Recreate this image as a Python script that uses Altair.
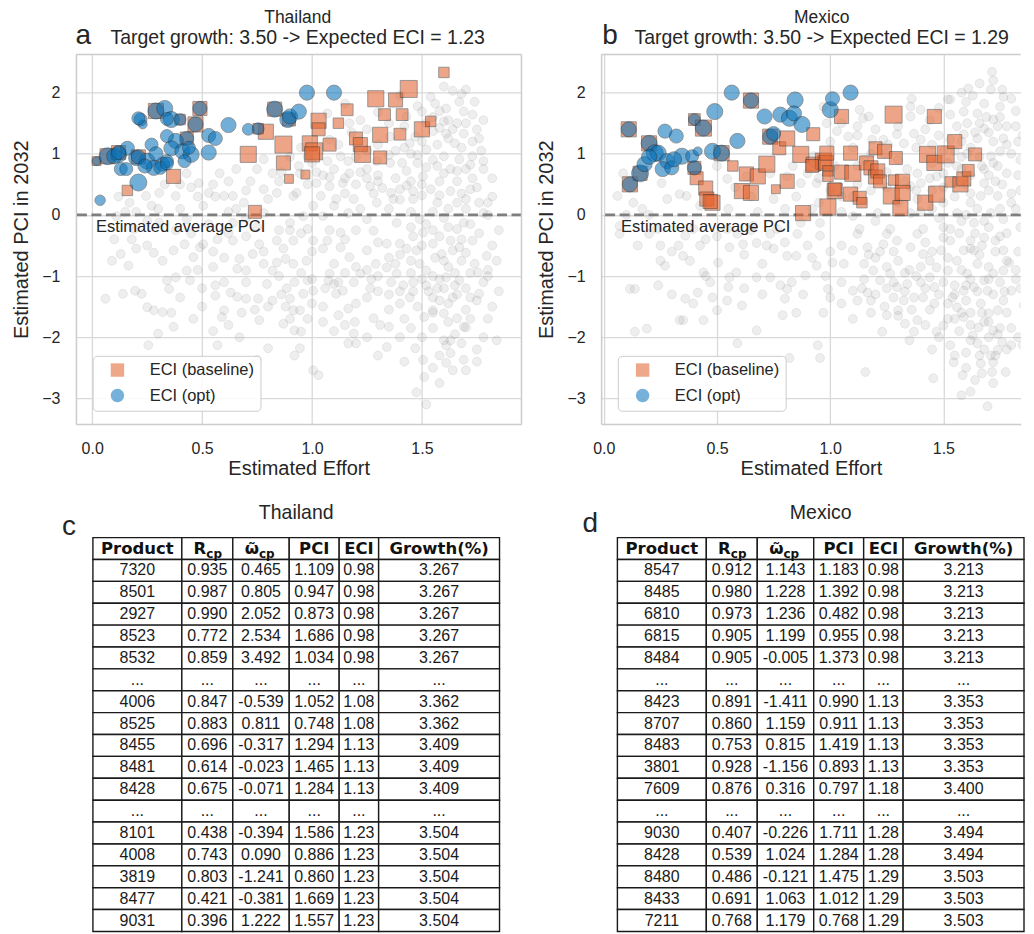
import altair as alt
import pandas as pd

FONT = "Liberation Sans"
TXT = "#262626"
BORDER = "#cccccc"
GRID = "#d9d9d9"

# ---------------- text ----------------
countries = ["Thailand", "Mexico"]
subtitles = ["Target growth: 3.50 -> Expected ECI = 1.23",
             "Target growth: 3.50 -> Expected ECI = 1.29"]
panel_letters = ["a", "b", "c", "d"]
series_names = ["ECI (baseline)", "ECI (opt)"]
avg_label = "Estimated average PCI"
x_title = "Estimated Effort"
y_title = "Estimated PCI in 2032"
x_ticks = [0.0, 0.5, 1.0, 1.5]
y_ticks = [-3, -2, -1, 0, 1, 2]
avg_pci = [0.0]

# ---------------- scatter data: (effort, pci, weight) ----------------
tha_base = [
    (0.16, 0.40, 2), (0.37, 0.63, 3.5), (0.74, 0.05, 3), (0.71, 0.99, 4.5), (0.79, 1.36, 4),
    (0.87, 1.15, 5), (0.87, 0.85, 3.5), (0.895, 0.59, 1.5), (0.97, 0.66, 1.5), (0.99, 1.17, 4),
    (1.01, 1.04, 5), (1.00, 0.99, 4), (1.03, 1.54, 4), (1.03, 1.40, 3), (1.08, 1.15, 3),
    (1.12, 1.50, 2), (1.16, 1.72, 2.5), (1.20, 1.25, 3), (1.22, 1.15, 3.5), (1.23, 0.99, 4.5),
    (1.31, 0.94, 3), (1.31, 1.31, 4), (1.29, 1.90, 4.5), (1.33, 1.64, 2.5), (1.38, 1.88, 3.5),
    (1.41, 1.64, 2.5), (1.40, 1.32, 2.5), (1.44, 2.06, 5), (1.50, 1.40, 4), (1.54, 1.53, 2),
    (1.60, 2.33, 2),
    (0.02, 0.88, 1.5), (0.07, 0.96, 4), (0.29, 1.70, 4), (0.49, 1.74, 3.5), (0.47, 1.48, 4),
    (0.43, 1.25, 3), (0.83, 1.73, 3.5), (0.895, 1.56, 3), (0.755, 1.41, 2), (0.40, 1.56, 2),
    (0.21, 0.95, 3.5), (0.12, 1.02, 3.5),
]
tha_opt = [
    (0.036, 0.24, 2), (0.02, 0.88, 1.5), (0.07, 0.96, 5), (0.12, 0.99, 4.5), (0.16, 1.09, 3.5),
    (0.13, 0.75, 3), (0.21, 0.53, 5), (0.20, 0.93, 4), (0.25, 0.88, 4.5), (0.28, 0.77, 4),
    (0.32, 0.83, 3.5), (0.27, 1.15, 3), (0.29, 1.00, 3.5), (0.22, 1.56, 3), (0.23, 1.48, 1.5),
    (0.29, 1.70, 4.5), (0.33, 1.74, 4.5), (0.36, 1.56, 4.5), (0.40, 1.56, 2.5), (0.49, 1.74, 3.5),
    (0.47, 1.48, 4), (0.43, 1.25, 3.5), (0.38, 1.21, 4), (0.36, 1.09, 4), (0.41, 1.04, 4),
    (0.45, 0.99, 4.5), (0.42, 0.88, 3), (0.53, 1.02, 4), (0.53, 1.30, 3.5), (0.56, 1.25, 3.5),
    (0.62, 1.47, 4), (0.71, 1.40, 2.5), (0.755, 1.41, 2.5), (0.83, 1.73, 4.5), (0.89, 1.56, 4.5),
    (0.90, 1.61, 4), (0.94, 1.69, 4), (0.977, 2.0, 4), (1.10, 2.0, 4), (0.34, 0.88, 3),
    (0.31, 0.77, 3), (0.10, 0.96, 4), (0.21, 0.95, 3.5), (0.12, 1.02, 3.5), (0.155, 0.75, 3),
    (0.34, 1.29, 3), (0.44, 1.10, 3), (0.34, 0.84, 3), (0.24, 0.80, 3.5), (0.34, 1.57, 3),
    (0.21, 1.58, 3),
]
tha_grey = [
    (0.06,-1.37),(0.14,-1.29),(0.09,-0.75),(0.13,-0.64),(0.165,-0.83),(0.2,-0.55),(0.25,-0.5),
    (0.195,-1.24),(0.225,-1.29),(0.25,-1.51),(0.28,-1.56),(0.32,-1.59),(0.36,-1.6),(0.3,-1.94),
    (0.255,-2.13),(0.37,-1.83),(0.46,-1.7),(0.4,-1.35),(0.35,-1.21),(0.34,-1.07),(0.38,-1.02),
    (0.445,-1.07),(0.43,-0.91),(0.46,-0.69),(0.49,-0.53),(0.32,-0.75),(0.28,-0.62),(0.505,-0.48),
    (0.56,-1.15),(0.56,-1.32),(0.6,-1.1),(0.63,-1.27),(0.66,-1.34),(0.6,-1.56),(0.59,-1.67),
    (0.57,-2.13),(0.67,-2.0),(0.7,-1.37),(0.755,-1.37),(0.76,-1.72),(0.8,-2.18),(0.75,-2.37),
    (0.66,-0.88),(0.7,-0.91),(0.67,-0.72),(0.73,-0.64),(0.795,-1.13),(0.82,-1.40),(0.82,-0.91),
    (0.84,-0.78),(0.88,-0.72),(0.87,-0.55),(0.915,-0.8),(0.885,-1.2),(0.9,-1.37),(0.915,-1.56),
    (0.945,-1.56),(0.96,-1.29),(1.005,-1.24),(0.98,-1.07),(0.92,-1.89),(0.95,-1.91),(0.945,-2.18),
    (0.92,-2.3),(0.87,-1.78),(1.005,-2.54),(1.03,-2.62),(0.975,-0.75),(1.08,-0.96),(1.075,-1.07),
    (1.1,-1.13),(1.11,-1.29),(1.14,-1.24),(1.165,-1.53),(1.195,-1.75),(1.19,-1.94),(1.165,-2.1),
    (1.12,-1.64),(1.19,-1.1),(1.22,-0.96),(1.265,-1.2),(1.28,-1.69),(1.31,-1.8),(1.34,-2.16),
    (1.35,-1.83),(1.29,-0.8),(1.34,-0.86),(1.385,-0.96),(1.415,-1.15),(1.445,-1.35),(1.46,-1.1),
    (1.47,-2.18),(1.475,-2.9),(1.51,-2.65),(1.52,-3.1),(1.505,-2.37),(1.51,-1.67),(1.55,-1.56),
    (1.6,-1.61),(1.61,-2.13),(1.6,-2.05),(1.63,-2.26),(1.61,-2.42),(1.64,-2.54),(1.69,-2.37),
    (1.7,-2.54),(1.69,-1.83),(1.7,-1.84),(1.76,-1.29),(1.75,-1.40),(1.84,-2.05),(1.795,-0.67),
    (1.755,-0.94),(1.73,-0.42),(1.66,-1.69),(1.57,-1.2),(1.61,-1.02),(1.55,-1.35),(1.52,-0.91),
    (1.49,-0.8),(1.475,-0.58),(1.55,-0.47),(1.59,-0.64),(1.64,-0.58),(1.67,-0.53),(1.67,-1.07),
    (1.64,-1.35),(1.58,-1.40),(1.4,-0.47),(1.34,-0.47),(1.25,-0.58),(1.17,-0.69),(1.13,-0.53),
    (1.07,-0.42),(1.005,-0.42),(0.915,-0.42),(0.84,-0.42),(0.76,-0.48),(0.64,-0.42),(0.57,-0.4),
    (0.42,-0.48),(0.37,-0.58),
    (1.64,2.03),(1.54,1.93),(1.61,1.74),(1.69,1.69),(1.73,1.64),(1.6,1.53),(1.66,1.5),(1.55,1.37),
    (1.61,1.33),(1.69,1.33),(1.73,1.2),(1.65,1.17),(1.57,1.15),(1.52,1.07),(1.6,0.96),(1.67,0.91),
    (1.73,0.96),(1.7,0.75),(1.63,0.75),(1.57,0.8),(1.48,0.85),(1.41,0.85),(1.355,0.85),(1.43,0.72),
    (1.505,0.63),(1.58,0.55),(1.66,0.55),(1.73,0.6),(1.72,0.42),(1.63,0.39),(1.54,0.42),(1.46,0.39),
    (1.4,0.42),(1.32,0.44),(1.265,0.47),(1.2,0.5),(1.14,0.52),(1.08,0.47),(1.02,0.52),(1.04,0.31),
    (1.11,0.26),(1.19,0.26),(1.295,0.2),(1.37,0.26),(1.46,0.26),(1.57,0.2),(1.66,0.2),(1.7,0.26),
    (1.8,0.2),(1.1,0.75),(1.17,0.68),(1.25,0.75),(1.295,0.88),(1.165,0.88),(1.07,0.88),(1.13,0.96),
    (1.07,1.66),(1.15,1.82),(1.17,1.5),(1.08,1.23),(1.43,1.61),(1.5,1.69),(1.355,1.28),(1.445,1.17),
    (0.93,0.36),(0.945,0.68),(1.005,0.15),(0.96,-0.02),(1.05,-0.02),(1.165,0.03),(1.25,-0.07),
    (1.385,-0.13),(1.49,-0.07),(1.6,-0.05),(1.69,-0.13),(1.78,0.03),(0.98,-0.23),(1.13,-0.29),
    (1.28,-0.26),(1.505,-0.29),(1.66,-0.23),
    (0.43,0.68),(0.485,0.52),(0.53,0.36),(0.6,0.31),(0.64,0.31),(0.69,0.2),(0.78,0.42),(0.8,0.26),
    (0.84,0.36),(0.915,0.31),(0.82,0.68),(0.94,0.8),(0.78,0.91),(0.655,0.75),(0.58,0.68),(0.505,0.15),
    (0.38,0.31),(0.305,0.36),(0.245,0.31),(0.17,0.2),(0.11,-0.02),(0.19,-0.23),(0.305,-0.13),
    (0.43,-0.07),(0.53,-0.15),(0.64,-0.13),(0.9,-0.13),(0.78,0.03),(0.655,0.1),
    (1.45,-0.2),(1.52,-0.15),(1.58,-0.35),(1.62,-0.2),(1.68,-0.4),(1.72,-0.15),(1.76,-0.3),(1.5,-0.5),
    (1.56,-0.7),(1.62,-0.85),(1.68,-0.75),(1.72,-0.95),(1.5,-1.05),(1.45,-0.75),(1.4,-0.65),(1.55,-1.0),
    (1.6,-1.2),(1.65,-1.15),(1.7,-1.2),(1.53,-1.25),(1.48,-1.5),(1.62,-1.45),(1.7,-1.55),(1.45,-0.95),
    (1.35,-0.7),(1.3,-1.0),(1.25,-1.35),(1.2,-1.45),(1.35,-1.3),(1.42,-1.7),(1.45,0.05),(1.55,0.05),
    (1.62,0.1),(1.7,0.1),(1.75,0.45),(1.78,0.75),(1.77,1.05),(1.75,1.4),(1.68,1.1),(1.62,1.25),
    (1.55,0.9),(1.5,0.5),(1.45,0.55),(1.38,0.6),(1.35,0.1),(1.28,0.35),(1.22,0.1),(1.15,0.35),
    (1.1,0.15),(1.45,1.0),(1.38,1.05),(1.3,1.15),(1.25,1.4),(1.62,1.55),(1.67,1.85),(1.58,1.7),
    (1.7,2.05),(1.55,1.6),(1.5,1.2),(1.05,0.65),(1.0,0.85),(0.95,1.1),(0.98,0.5),(1.2,0.95),
    (1.25,0.6),(1.3,0.65),(1.4,0.25),(1.2,-0.25),(1.05,-0.55),(1.1,-0.8),(0.95,-0.3),(0.85,-0.25),
    (0.75,-0.2),(0.7,-0.05),(0.62,0.05),(0.55,0.5),(0.45,0.45),(0.72,0.55),(0.85,0.55),(0.6,-0.7),
    (0.55,-0.85),(0.5,-1.2),(0.45,-0.3),(0.38,-0.25),(0.25,-0.1),(0.2,0.05),(0.18,-0.4),(0.1,-0.4),
    (0.3,0.1),(0.4,0.1),(0.7,-1.1),(0.78,-0.8),(0.85,-1.0),(0.9,-1.7),(1.0,-1.45),(1.05,-1.75),
    (1.1,-1.9),(1.25,-2.0),(1.35,-1.55),(1.4,-1.25),(1.55,-1.85),(1.58,-2.3),(1.65,-1.95),(1.75,-2.2),
    (1.8,-1.7),(1.8,-1.0),(1.82,-0.5),(1.8,0.0),(1.8,-0.9),
    (1.42,1.45),(1.47,1.28),(1.52,1.5),(1.58,1.42),(1.64,1.4),(1.7,1.5),(1.76,1.25),(1.78,1.55),
    (1.74,1.85),(1.68,1.98),(1.6,2.1),(1.56,1.82),(1.48,1.78),(1.4,1.95),(1.35,1.5),(1.3,1.68),
    (1.22,1.55),(1.18,1.35),(1.12,1.15),(1.25,1.05),(1.35,0.98),(1.42,1.1),(1.48,0.98),(1.52,0.78),
    (1.6,0.68),(1.66,0.72),(1.72,0.82),(1.78,0.88),(1.82,0.6),(1.82,0.3),(1.76,0.2),(1.68,0.35),
    (1.58,0.32),(1.5,0.32),(1.43,0.48),(1.36,0.36),(1.3,0.55),(1.22,0.7),(1.15,0.6),(1.08,0.62),
    (1.02,0.7),(0.98,0.95),(0.9,0.95),(0.86,0.7),(0.75,0.75),(0.7,0.4),(0.62,0.55),(0.56,0.3),
    (0.48,0.3),(0.4,0.5),(0.33,0.5),(0.27,0.15),(0.15,0.05),(0.12,0.3),(1.46,-0.35),(1.55,-0.25),
    (1.63,-0.42),(1.7,-0.62),(1.74,-0.8),(1.78,-1.1),(1.72,-1.35),(1.66,-1.3),(1.58,-1.05),
    (1.52,-1.15),(1.46,-1.25),(1.4,-1.45),(1.36,-1.1),(1.3,-1.25),(1.27,-1.05),(1.2,-0.85),
    (1.15,-0.95),(1.12,-1.1),(1.06,-1.2),(1.0,-1.05),(0.95,-0.95),(0.92,-1.1),(0.86,-1.3),(0.8,-1.5),
    (0.74,-1.55),(0.68,-1.6),(0.62,-1.8),(0.55,-1.9),(0.5,-1.5),(0.48,-0.9),(0.55,-0.6),(0.62,-0.3),
    (0.7,-0.35),(0.78,-0.6),(0.9,-0.25),(1.0,-0.6),(1.08,-0.25),(1.15,-0.4),(1.25,-0.9),(1.3,-0.45),
    (1.38,-0.8),(1.43,-0.55),(1.6,-0.75),(1.65,-0.95),(1.55,-1.6),(1.62,-1.75),(1.68,-2.1),
    (1.72,-1.7),(1.5,-2.0),(1.45,-1.85),(1.42,-2.4),(1.55,-2.5),(1.58,-2.75),(1.63,-2.05),(1.4,-2.0),
    (1.3,-2.3),(1.2,-2.1),(1.15,-1.8),(1.05,-1.5),(0.98,-1.7),(0.88,-1.5),(1.75,-2.4),(1.78,-2.0),
    (1.82,-1.5),(1.85,-1.25),(1.84,-0.75),(1.85,-0.25),
]

mex_base = [
    (0.11, 1.40, 4), (0.115, 0.50, 4), (0.16, 0.68, 3.5), (0.20, 1.17, 4), (0.40, 1.56, 2.5),
    (0.44, 1.42, 4.5), (0.40, 0.77, 3), (0.52, 1.01, 4), (0.65, 1.87, 4), (0.735, 1.28, 4),
    (0.41, 0.60, 3), (0.45, 0.44, 3.5), (0.455, 0.26, 3.5), (0.48, 0.20, 4), (0.47, 0.22, 3.5),
    (0.57, 0.80, 2), (0.61, 0.39, 4), (0.65, 0.36, 4), (0.63, 0.67, 3.5), (0.68, 0.63, 4),
    (0.72, 0.83, 4.5), (0.76, 0.42, 1.5), (0.81, 0.55, 3.5), (0.775, 1.09, 3), (0.81, 1.25, 4),
    (0.87, 0.99, 4.5), (0.925, 1.32, 3), (0.88, 0.03, 4), (0.925, 0.83, 3.5), (0.97, 0.88, 4.5),
    (0.98, 0.85, 4), (0.985, 1.01, 3.5), (0.99, 0.72, 2), (0.99, 0.63, 2), (0.99, 0.13, 4.5),
    (1.02, 0.39, 4), (1.02, 0.42, 3), (1.05, 1.61, 3.5), (1.05, 0.70, 3.5), (1.09, 1.01, 3.5),
    (1.09, 0.34, 3.5), (1.13, 0.28, 3), (1.14, 0.20, 2), (1.10, 0.68, 4.5), (1.16, 0.85, 3.5),
    (1.18, 0.77, 3.5), (1.20, 1.09, 3), (1.20, 0.62, 3.5), (1.21, 0.72, 3.5), (1.22, 0.55, 3),
    (1.24, 1.04, 3.5), (1.28, 1.64, 5), (1.29, 0.93, 3), (1.27, 0.31, 4.5), (1.28, 0.57, 2),
    (1.31, 0.11, 4), (1.32, 0.55, 3.5), (1.32, 0.36, 4), (1.42, 0.20, 4), (1.47, 0.34, 4.5),
    (1.43, 0.99, 4.5), (1.46, 0.85, 4), (1.46, 1.61, 3.5), (1.51, 0.99, 5), (1.55, 1.20, 3.5),
    (1.53, 0.54, 2), (1.575, 0.50, 4), (1.59, 0.59, 3.5), (1.61, 0.73, 2.5), (1.64, 0.99, 3),
    (0.92, 0.80, 3),
]
mex_opt = [
    (0.11, 1.40, 4), (0.115, 0.50, 4), (0.16, 0.68, 5), (0.20, 1.17, 4.5), (0.18, 0.83, 4),
    (0.225, 1.01, 5), (0.24, 1.01, 4.5), (0.27, 1.37, 3.5), (0.32, 1.29, 3.5), (0.28, 0.88, 4),
    (0.26, 0.75, 4), (0.30, 0.77, 3.5), (0.345, 0.96, 4.5), (0.39, 0.96, 3), (0.40, 1.56, 2.5),
    (0.44, 1.42, 4.5), (0.415, 1.04, 1.5), (0.40, 0.77, 3.5), (0.49, 1.69, 4.5), (0.48, 1.04, 4.5),
    (0.52, 1.01, 4.5), (0.565, 2.0, 4), (0.59, 1.21, 4), (0.65, 1.87, 4), (0.71, 1.61, 4),
    (0.735, 1.28, 4), (0.75, 1.33, 3.5), (0.78, 1.64, 4), (0.82, 1.58, 4.5), (0.845, 1.88, 4.5),
    (0.84, 1.66, 4), (0.875, 1.48, 4.5), (1.0, 1.72, 4.5), (1.01, 1.90, 3.5), (1.09, 2.0, 4),
    (0.31, 0.91, 4), (0.20, 0.95, 4),
]
mex_grey = [
    (0.07,-0.31),(0.2,-0.31),(0.25,-0.5),(0.33,-0.5),(0.36,-0.34),(0.35,-0.67),(0.38,-0.75),
    (0.425,-0.5),(0.27,-0.83),(0.44,-0.94),(0.47,-1.1),(0.115,-1.21),(0.137,-1.21),(0.24,-1.15),
    (0.36,-1.37),(0.395,-1.45),(0.415,-1.27),(0.48,-1.35),(0.5,-1.56),(0.545,-1.4),(0.55,-1.18),
    (0.555,-1.02),(0.585,-0.94),(0.61,-1.48),(0.335,-1.72),(0.35,-1.72),(0.44,-1.72),(0.19,-1.86),
    (0.137,-1.91),(0.59,-2.1),(0.675,-1.89),(0.675,-1.02),(0.735,-1.02),(0.78,-1.15),(0.81,-1.21),
    (0.8,-1.37),(0.79,-1.64),(0.83,-1.1),(0.89,-0.99),(0.82,-2.34),(0.945,-2.13),(0.955,-2.34),
    (0.97,-1.6),(0.99,-1.21),(1.0,-1.35),(1.01,-0.78),(0.94,-0.83),(0.85,-0.67),(0.81,-0.67),
    (0.75,-0.55),(0.675,-0.46),(0.615,-0.48),(0.555,-0.53),(0.505,-0.78),(0.59,-0.31),(0.735,-0.31),
    (0.855,-0.31),(0.955,-0.34),(1.06,-0.8),(1.1,-1.24),(1.155,-2.57),(1.165,-1.27),(1.18,-1.6),
    (1.23,-1.91),(1.25,-1.64),(1.3,-1.56),(1.33,-1.78),(1.385,-1.72),(1.37,-1.91),(1.455,-2.67),
    (1.47,-1.91),(1.5,-1.81),(1.545,-2.41),(1.53,-2.13),(1.585,-2.62),(1.62,-2.89),(1.695,-3.13),
    (1.665,-2.43),(1.72,-2.41),(1.71,-2.3),(1.74,-2.21),(1.76,-2.08),(1.8,-2.13),(1.83,-2.0),
    (1.85,-2.13),(1.775,-2.57),(1.715,-2.57),(1.67,-2.59),(1.855,-1.48),(1.8,-1.24),(1.765,-1.4),
    (1.74,-1.56),(1.7,-1.61),(1.72,-1.89),(1.655,-1.84),(1.63,-1.97),(1.59,-1.67),(1.56,-1.51),
    (1.54,-1.35),(1.59,-1.24),(1.635,-1.18),(1.68,-1.07),(1.72,-0.96),(1.765,-0.91),(1.79,-0.78),
    (1.765,-0.58),(1.73,-0.42),(1.68,-0.37),(1.62,-0.42),(1.59,-0.58),(1.56,-0.75),(1.52,-0.91),
    (1.47,-0.86),(1.44,-1.02),(1.46,-1.18),(1.41,-1.35),(1.37,-1.35),(1.34,-1.13),(1.325,-1.4),
    (1.28,-1.35),(1.295,-1.18),(1.265,-0.96),(1.22,-1.07),(1.19,-0.91),(1.15,-0.8),(1.1,-0.58),
    (1.165,-0.53),(1.235,-0.48),(1.295,-0.42),(1.355,-0.53),(1.41,-0.64),(1.44,-0.75),(1.49,-0.58),
    (1.53,-0.42),(1.5,-0.37),(1.385,-0.31),(1.25,-0.31),(1.12,-0.31),(1.65,-0.8),(1.635,-0.58),
    (1.605,-0.96),(1.665,-1.45),(1.695,-1.24),
    (1.715,2.34),(1.61,2.07),(1.71,2.05),(1.765,1.93),(1.68,1.82),(1.75,1.77),(1.65,1.66),(1.72,1.56),
    (1.78,1.45),(1.59,1.69),(1.605,1.5),(1.68,1.41),(1.56,1.45),(1.53,1.64),(1.52,1.89),(1.59,1.32),
    (1.65,1.25),(1.72,1.2),(1.765,1.25),(1.75,1.04),(1.71,0.96),(1.67,0.8),(1.74,0.8),(1.78,0.68),
    (1.73,0.55),(1.68,0.52),(1.665,0.31),(1.74,0.31),(1.8,0.2),(1.65,0.1),(1.71,0.03),(1.765,-0.07),
    (1.56,0.03),(1.635,-0.13),(1.53,1.23),(1.355,1.61),(1.37,1.33),(1.4,1.23),(1.325,1.17),
    (1.295,1.32),(1.235,1.23),(1.185,1.23),(1.255,1.15),(1.13,1.72),(1.145,1.58),(1.17,1.61),
    (1.12,1.45),(1.08,1.28),(1.03,1.37),(1.355,1.77),(1.4,1.72),(1.53,1.89),(1.605,1.0),(1.56,0.8),
    (1.5,0.68),(1.47,0.63),(1.385,0.68),(1.34,0.75),(1.4,0.52),(1.355,0.47),(1.385,0.26),(1.355,0.03),
    (1.21,0.03),(1.1,-0.02),(1.13,-0.23),(1.265,-0.23),(1.41,-0.23),(1.53,-0.23),(0.955,-0.13),
    (0.94,0.52),(0.925,0.96),(0.985,1.5),(0.97,1.77),
    (0.13,0.2),(0.17,0.1),(0.255,0.52),(0.335,0.34),(0.365,0.31),(0.425,0.15),(0.5,0.8),(0.545,0.59),
    (0.63,0.63),(0.735,0.68),(0.81,0.63),(0.75,0.26),(0.87,0.52),(0.9,0.68),(0.925,0.85),(0.835,0.8),
    (0.28,0.26),(0.06,0.31),(0.085,0.68),(0.395,-0.23),(0.545,-0.23),(0.66,-0.18),(0.765,-0.23),
    (0.87,-0.13),(0.235,-0.23),(0.07,-0.18),
    (1.82,1.7),(1.85,1.3),(1.84,0.9),(1.84,0.4),(1.83,-0.6),(1.82,-0.9),(1.84,-1.2),(1.84,-0.2),
    (1.6,0.5),(1.62,0.2),(1.58,0.75),(1.7,0.65),(1.75,0.1),(1.78,-0.3),(1.7,-0.2),(1.64,-0.3),
    (1.58,-0.1),(1.5,0.2),(1.45,0.4),(1.45,0.1),(1.48,-0.05),(1.42,-0.45),(1.45,-0.6),(1.52,-0.7),
    (1.58,-0.9),(1.62,-1.05),(1.66,-0.65),(1.7,-0.85),(1.75,-1.1),(1.78,-1.6),(1.8,-1.85),(1.6,-1.4),
    (1.55,-1.15),(1.5,-1.1),(1.48,-1.3),(1.44,-1.55),(1.4,-1.1),(1.35,-0.9),(1.3,-0.75),(1.28,-0.6),
    (1.4,-0.85),(1.33,-1.25),(1.25,-1.2),(1.2,-1.3),(1.15,-1.05),(1.12,-1.4),(1.05,-1.1),(1.05,-0.5),
    (1.0,-0.6),(1.2,-0.7),(1.62,1.1),(1.66,1.5),(1.7,1.35),(1.6,1.85),(1.75,1.6),(1.8,1.0),(1.66,0.95),
    (1.72,2.2),(1.63,1.95),(1.5,1.05),(1.45,0.85),(1.42,1.4),(1.3,0.9),(1.25,0.45),(1.4,0.05),
    (1.3,0.2),(1.2,-0.1),(1.55,-1.7),(1.65,-2.1),(1.6,-2.25),(1.7,-2.0),(1.75,-1.85),(1.68,-1.75),
    (1.62,-1.6),(1.72,-1.3),(1.66,-2.3),(0.55,0.1),(0.45,-0.4),(0.3,-0.6),(0.2,0.0),(0.62,-0.65),
    (0.7,-0.8),(0.9,-0.5),(0.95,0.2),(0.8,0.1),(0.65,0.3),(0.72,-0.5),(1.05,0.3),(1.12,0.5),
    (1.02,0.8),(1.1,1.1),(1.15,0.9),
    (1.3,1.45),(1.36,1.9),(1.44,1.55),(1.48,1.3),(1.55,1.05),(1.58,1.2),(1.64,1.35),(1.69,1.6),
    (1.74,1.45),(1.78,1.15),(1.82,1.45),(1.8,1.9),(1.76,2.05),(1.66,2.15),(1.58,2.0),(1.48,1.75),
    (1.38,1.1),(1.45,1.15),(1.52,0.85),(1.58,0.95),(1.62,0.65),(1.68,0.75),(1.72,0.85),(1.76,0.5),
    (1.8,0.35),(1.7,0.4),(1.62,0.35),(1.55,0.3),(1.5,0.45),(1.44,0.6),(1.38,0.4),(1.33,0.55),
    (1.25,0.7),(1.18,0.4),(1.1,0.3),(1.05,0.05),(1.0,0.4),(0.95,0.6),(1.0,1.2),(1.05,1.5),(1.12,1.3),
    (1.2,1.4),(1.24,1.0),(1.18,1.0),(1.12,0.8),(1.5,-0.2),(1.57,-0.3),(1.62,-0.55),(1.67,-0.5),
    (1.73,-0.6),(1.78,-0.75),(1.82,-1.05),(1.77,-1.25),(1.7,-1.05),(1.65,-1.25),(1.6,-1.15),
    (1.55,-1.3),(1.52,-1.45),(1.58,-1.6),(1.62,-1.8),(1.67,-1.6),(1.7,-1.75),(1.74,-1.95),(1.78,-2.2),
    (1.73,-2.3),(1.68,-2.2),(1.62,-2.05),(1.57,-1.9),(1.52,-1.7),(1.46,-1.45),(1.42,-1.2),(1.38,-1.0),
    (1.33,-0.95),(1.28,-1.1),(1.25,-0.85),(1.22,-0.6),(1.17,-0.65),(1.14,-1.2),(1.18,-1.4),
    (1.24,-1.5),(1.3,-1.65),(1.36,-1.55),(1.42,-1.8),(1.48,-2.0),(1.55,-2.3),(1.6,-2.5),(1.64,-2.7),
    (1.72,-2.75),(1.58,-2.95),(1.45,-2.2),(1.35,-2.05),(1.1,-1.7),(1.05,-1.45),(0.98,-1.0),
    (0.92,-0.7),(0.88,-1.3),(0.85,-1.6),(0.7,-1.3),(0.62,-1.2),(0.65,-0.25),(0.5,-0.35),(0.45,-1.0),
    (0.3,-1.3),(0.25,-0.75),(0.15,-0.5),(0.1,0.0),(0.58,0.45),(0.68,0.05),(0.85,0.3),(0.92,0.1),
    (0.8,-0.45),(1.6,0.0),(1.68,-0.1),(1.75,-0.35),(1.82,0.1),(1.83,0.65),(1.83,1.2),
]

# ---------------- tables ----------------
table_header = ["Product", "R", "\u03c9\u0303", "PCI", "ECI", "Growth(%)"]
table_sub = ["", "cp", "cp", "", "", ""]

tha_product = ["7320", "8501", "2927", "8523", "8532", "...", "4006", "8525", "8455", "8481", "8428", "...", "8101", "4008", "3819", "8477", "9031"]
tha_rcp = ["0.935", "0.987", "0.990", "0.772", "0.859", "...", "0.847", "0.883", "0.696", "0.614", "0.675", "...", "0.438", "0.743", "0.803", "0.421", "0.396"]
tha_omega = ["0.465", "0.805", "2.052", "2.534", "3.492", "...", "-0.539", "0.811", "-0.317", "-0.023", "-0.071", "...", "-0.394", "0.090", "-1.241", "-0.381", "1.222"]
tha_pci = ["1.109", "0.947", "0.873", "1.686", "1.034", "...", "1.052", "0.748", "1.294", "1.465", "1.284", "...", "1.586", "0.886", "0.860", "1.669", "1.557"]
tha_eci = ["0.98", "0.98", "0.98", "0.98", "0.98", "...", "1.08", "1.08", "1.13", "1.13", "1.13", "...", "1.23", "1.23", "1.23", "1.23", "1.23"]
tha_growth = ["3.267", "3.267", "3.267", "3.267", "3.267", "...", "3.362", "3.362", "3.409", "3.409", "3.409", "...", "3.504", "3.504", "3.504", "3.504", "3.504"]

mex_product = ["8547", "8485", "6810", "6815", "8484", "...", "8423", "8707", "8483", "3801", "7609", "...", "9030", "8428", "8480", "8433", "7211"]
mex_rcp = ["0.912", "0.980", "0.973", "0.905", "0.905", "...", "0.891", "0.860", "0.753", "0.928", "0.876", "...", "0.407", "0.539", "0.486", "0.691", "0.768"]
mex_omega = ["1.143", "1.228", "1.236", "1.199", "-0.005", "...", "-1.411", "1.159", "0.815", "-1.156", "0.316", "...", "-0.226", "1.024", "-0.121", "1.063", "1.179"]
mex_pci = ["1.183", "1.392", "0.482", "0.955", "1.373", "...", "0.990", "0.911", "1.419", "0.893", "0.797", "...", "1.711", "1.284", "1.475", "1.012", "0.768"]
mex_eci = ["0.98", "0.98", "0.98", "0.98", "0.98", "...", "1.13", "1.13", "1.13", "1.13", "1.18", "...", "1.28", "1.28", "1.29", "1.29", "1.29"]
mex_growth = ["3.213", "3.213", "3.213", "3.213", "3.213", "...", "3.353", "3.353", "3.353", "3.353", "3.400", "...", "3.494", "3.494", "3.503", "3.503", "3.503"]

# ---------------- layout constants ----------------
PLOT_H = 370
Y_DOMAIN = [-3.42, 2.625]
COL_W = [89, 51, 56.5, 50, 39.5, 121]
ROW_H = 21.9


def scatter_panel(idx, grey, base, opt, W, xdom, title_x, letter_x, right_border):
    xs = alt.Scale(domain=xdom, nice=False, zero=False)
    ys = alt.Scale(domain=Y_DOMAIN, nice=False, zero=False)
    common = dict(grid=True, gridColor=GRID, gridWidth=1.3, ticks=False,
                  domain=True, domainColor=BORDER, domainWidth=1.5,
                  labelFont=FONT, labelFontSize=16, labelColor=TXT, labelPadding=16,
                  titleFont=FONT, titleFontSize=20, titleColor=TXT, titleFontWeight="normal")
    xaxis = alt.Axis(values=x_ticks, format=".1f", title=x_title, titlePadding=3, **common)
    yaxis = alt.Axis(values=y_ticks, format="d", title=y_title, titlePadding=10, **common)
    X = alt.X("effort:Q", scale=xs, axis=xaxis)
    Y = alt.Y("pci:Q", scale=ys, axis=yaxis)

    gdf = pd.DataFrame(grey, columns=["effort", "pci"])
    grey_layer = alt.Chart(gdf).mark_circle(
        size=80, fill="#8a8a8a", fillOpacity=0.15, stroke="#8a8a8a",
        strokeOpacity=0.15, strokeWidth=1, clip=True).encode(x=X, y=Y)

    adf = pd.DataFrame({"pci": avg_pci, "label": [avg_label]})
    rule = alt.Chart(adf).mark_rule(color="#7f7f7f", strokeWidth=2.7,
                                    strokeDash=[10, 4.5]).encode(y=Y)
    avg_text = alt.Chart(adf).mark_text(font=FONT, fontSize=16.5, color=TXT, align="left",
                                        baseline="top", dy=4).encode(
        x=alt.value(20), y=Y, text="label:N")

    rows = [(x, y, w, series_names[0]) for x, y, w in base] + \
           [(x, y, w, series_names[1]) for x, y, w in opt]
    cdf = pd.DataFrame(rows, columns=["effort", "pci", "w", "kind"])
    leg = alt.Legend(orient="none", legendX=16.7, legendY=301.7, title=None,
                     fillColor="rgba(255,255,255,0.85)", strokeColor=BORDER, cornerRadius=4,
                     padding=6, rowPadding=7.5, labelOffset=24, symbolOffset=10.6,
                     labelFont=FONT, labelFontSize=16.5, labelColor=TXT,
                     symbolSize=180, symbolStrokeColor="#333333", symbolStrokeWidth=0.8,
                     symbolOpacity=0.55)
    pts = alt.Chart(cdf).mark_point(filled=True, opacity=0.56, stroke="#262626",
                                    strokeWidth=0.8, clip=True).encode(
        x=X, y=Y,
        color=alt.Color("kind:N", scale=alt.Scale(domain=series_names,
                                                  range=["#E2602A", "#0672BA"]), legend=leg),
        shape=alt.Shape("kind:N", scale=alt.Scale(domain=series_names,
                                                  range=["square", "circle"]), legend=leg),
        size=alt.Size("w:Q", scale=alt.Scale(domain=[1, 5], range=[49, 289]), legend=None),
    )

    tdf = pd.DataFrame({"country": [countries[idx]], "sub": [subtitles[idx]],
                        "letter": [panel_letters[idx]]})
    t_country = alt.Chart(tdf).mark_text(font=FONT, fontSize=17.5, color=TXT, align="center",
                                         baseline="alphabetic").encode(
        text="country:N", x=alt.value(title_x), y=alt.value(-31))
    t_sub = alt.Chart(tdf).mark_text(font=FONT, fontSize=19.5, color=TXT, align="center",
                                     baseline="alphabetic").encode(
        text="sub:N", x=alt.value(title_x), y=alt.value(-10))
    t_letter = alt.Chart(tdf).mark_text(font=FONT, fontSize=28, color=TXT, align="center",
                                        baseline="alphabetic").encode(
        text="letter:N", x=alt.value(letter_x), y=alt.value(-10.5))
    top_border = alt.Chart(tdf).mark_rule(color=BORDER, strokeWidth=1.5).encode(
        x=alt.value(0), x2=alt.value(W), y=alt.value(0))
    layers = [grey_layer, rule, avg_text, pts, t_country, t_sub, t_letter, top_border]
    if right_border:
        layers.append(alt.Chart(tdf).mark_rule(color=BORDER, strokeWidth=1.5).encode(
            x=alt.value(W), y=alt.value(0), y2=alt.value(PLOT_H)))
    return alt.layer(*layers).properties(width=W, height=PLOT_H)


def table_chart(idx, cols, W, x0, letter_x, letter_y):
    nrows = len(cols[0]) + 1
    H = nrows * ROW_H
    edges = [x0]
    for w in COL_W:
        edges.append(edges[-1] + w)
    xs = alt.Scale(domain=[0, W], nice=False, zero=False)
    ys = alt.Scale(domain=[0, H], nice=False, zero=False, reverse=True)

    cells = []
    for r in range(nrows):
        for c in range(6):
            cells.append({"x": edges[c], "x2": edges[c + 1], "y": r * ROW_H, "y2": (r + 1) * ROW_H})
    rect = alt.Chart(pd.DataFrame(cells)).mark_rect(fill="white", stroke="#1a1a1a",
                                                    strokeWidth=1.4).encode(
        x=alt.X("x:Q", scale=xs, axis=None), x2="x2:Q",
        y=alt.Y("y:Q", scale=ys, axis=None), y2="y2:Q")

    body = []
    for r in range(nrows - 1):
        for c in range(6):
            body.append({"cx": (edges[c] + edges[c + 1]) / 2, "cy": (r + 1.5) * ROW_H,
                         "t": cols[c][r]})
    body_txt = alt.Chart(pd.DataFrame(body)).mark_text(
        font=FONT, fontSize=16, color="#1a1a1a", align="center", baseline="middle").encode(
        x=alt.X("cx:Q", scale=xs, axis=None), y=alt.Y("cy:Q", scale=ys, axis=None), text="t:N")

    plain, base, sub = [], [], []
    for c in range(6):
        cx = (edges[c] + edges[c + 1]) / 2
        if table_sub[c]:
            j = cx - (1 if c == 1 else 2)
            base.append({"cx": j, "cy": 0.5 * ROW_H, "t": table_header[c]})
            sub.append({"cx": j, "cy": 0.5 * ROW_H, "t": table_sub[c]})
        else:
            plain.append({"cx": cx, "cy": 0.5 * ROW_H, "t": table_header[c]})
    enc = dict(x=alt.X("cx:Q", scale=xs, axis=None), y=alt.Y("cy:Q", scale=ys, axis=None),
               text="t:N")
    head_txt = alt.Chart(pd.DataFrame(plain)).mark_text(
        font="DejaVu Sans", fontWeight="bold", fontSize=16.5, color="#111111",
        align="center", baseline="middle").encode(**enc)
    head_base = alt.Chart(pd.DataFrame(base)).mark_text(
        font="DejaVu Sans", fontWeight="bold", fontSize=16.5, color="#111111",
        align="right", baseline="middle").encode(**enc)
    head_sub = alt.Chart(pd.DataFrame(sub)).mark_text(
        font="DejaVu Sans", fontWeight="bold", fontSize=12, color="#111111",
        align="left", baseline="middle", dy=5).encode(**enc)

    tdf = pd.DataFrame({"country": [countries[idx]], "letter": [panel_letters[idx + 2]]})
    t_country = alt.Chart(tdf).mark_text(font=FONT, fontSize=19.5, color=TXT, align="center",
                                         baseline="alphabetic").encode(
        text="country:N", x=alt.value(x0 + sum(COL_W) / 2), y=alt.value(-19))
    t_letter = alt.Chart(tdf).mark_text(font=FONT, fontSize=28, color=TXT, align="center",
                                        baseline="alphabetic").encode(
        text="letter:N", x=alt.value(letter_x), y=alt.value(letter_y))
    return alt.layer(rect, body_txt, head_txt, head_base, head_sub, t_country, t_letter
                     ).properties(width=W, height=H)


WA, WB = 446, 420
panel_a = scatter_panel(0, tha_grey, tha_base, tha_opt, WA, [-0.074, 1.953], 222, 7.3, True)
panel_b = scatter_panel(1, mex_grey, mex_base, mex_opt, WB, [-0.012, -0.012 + WB / 226.6], 220.8, 8.8, False)
table_c = table_chart(0, [tha_product, tha_rcp, tha_omega, tha_pci, tha_eci, tha_growth], WA, 17, -7, -3)
table_d = table_chart(1, [mex_product, mex_rcp, mex_omega, mex_pci, mex_eci, mex_growth], WB, 16.3, -10.9, -5.3)

chart = alt.concat(panel_a, panel_b, table_c, table_d, columns=2,
                   spacing={"row": 113.7, "column": 79.7}, bounds="flush", align="each")
chart = chart.resolve_scale(x="independent", y="independent", color="independent",
                            shape="independent", size="independent"
                            ).resolve_legend(color="independent", shape="independent",
                                             size="independent")
chart = chart.properties(padding={"left": 3, "top": 0, "right": 0, "bottom": 0},
                         background="white").configure_view(stroke="transparent")

chart.save("out.html", embed_options={"renderer": "svg", "actions": False})
